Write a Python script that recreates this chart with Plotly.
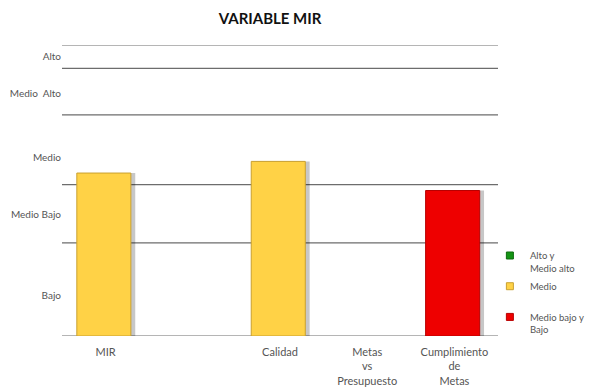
import plotly.graph_objects as go

# categories along the x axis (the second slot is an empty column in the original)
categories = ["MIR", "", "Calidad", "Metas<br>vs<br>Presupuesto", "Cumplimiento<br>de<br>Metas"]

# bar values on a 0-100 scale, one list per colour band
alto_vals = [None, None, None, None, None]
medio_vals = [56, None, 60, None, None]
bajo_vals = [None, None, None, None, 50]

# boundaries between levels and where each level label sits
level_bounds = [0, 32, 52, 76, 92, 100]
level_labels = ["Bajo", "Medio Bajo", "Medio", "Medio  Alto", "Alto"]
level_label_pos = [14, 41.6, 61.5, 83.5, 96.2]

legend_names = ["Alto y<br>Medio alto", "Medio<br> ", "Medio bajo y<br>Bajo"]
fills = ["#149414", "#FFD246", "#EE0000"]
edges = ["#0d6b0d", "#C9A030", "#B80000"]

x = list(range(len(categories)))
series = [alto_vals, medio_vals, bajo_vals]

fig = go.Figure()

# soft shadow behind the bars
for vals in series:
    fig.add_trace(go.Bar(
        x=x, y=vals, width=0.62, offset=-0.28,
        marker=dict(color="rgba(0,0,0,0.22)", line=dict(width=0)),
        showlegend=False, hoverinfo="skip",
    ))

for vals, fill, edge in zip(series, fills, edges):
    fig.add_trace(go.Bar(
        x=x, y=vals, width=0.62, offset=-0.33,
        marker=dict(color=fill, line=dict(color=edge, width=1)),
        showlegend=False,
    ))

# legend entries with small square swatches
for i, (name, fill, edge) in enumerate(zip(legend_names, fills, edges)):
    fig.add_trace(go.Scatter(
        x=[None], y=[None], mode="markers", name=name, legendgroup=f"g{i}",
        marker=dict(symbol="square", size=7, color=fill, line=dict(color=edge, width=1)),
    ))

for b in level_bounds:
    fig.add_shape(type="line", xref="paper", yref="y", x0=0, x1=1, y0=b, y1=b,
                  line=dict(color="#6d6d6d", width=1.2), layer="below")

# page has an 8px body margin, so the figure is 8px smaller than the window
fig.update_layout(
    width=592, height=380,
    margin=dict(l=54, r=102, t=37, b=52, autoexpand=False),
    paper_bgcolor="white", plot_bgcolor="white",
    barmode="overlay",
    font=dict(family="Lato, Open Sans, sans-serif", size=11, color="#555555"),
    title=dict(text="<b>VARIABLE MIR</b>", x=0.4426, xanchor="center",
               y=0.986, yanchor="top", automargin=False,
               font=dict(size=15, color="#111111", family="Lato, sans-serif")),
    xaxis=dict(range=[-0.5, 4.5], tickvals=x, ticktext=categories, automargin=False,
               showgrid=False, zeroline=False, showline=False, ticks="",
               ticklabelstandoff=8),
    yaxis=dict(range=[0, 100], tickvals=level_label_pos, ticktext=level_labels,
               automargin=False, showgrid=False, zeroline=False, showline=False,
               ticks="", ticklen=0, tickfont=dict(size=10)),
    legend=dict(xref="container", yref="container", x=0.814, y=0.382,
                xanchor="left", yanchor="top", valign="top",
                traceorder="grouped", tracegroupgap=3,
                font=dict(size=9.5, color="#555555"), itemwidth=30,
                bgcolor="rgba(0,0,0,0)"),
    showlegend=True,
)

fig.write_html("out.html")
